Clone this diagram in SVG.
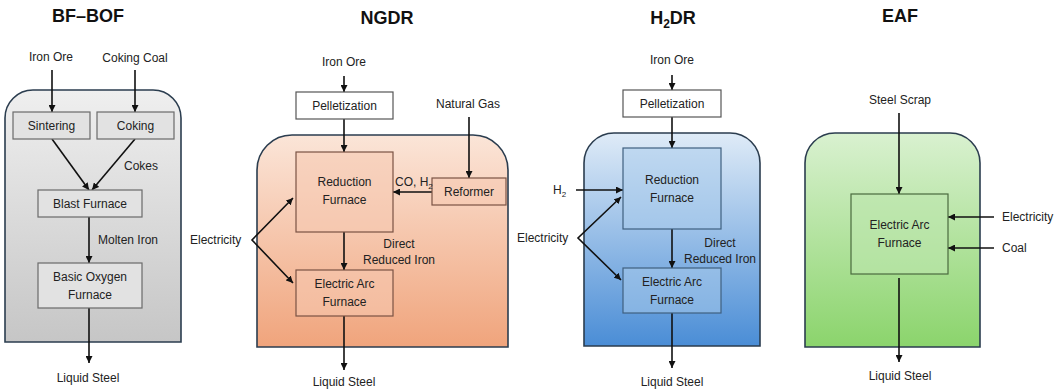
<svg xmlns="http://www.w3.org/2000/svg" width="1061" height="392" viewBox="0 0 1061 392">
<style>
text{font-family:"Liberation Sans","Noto Sans",Arial,sans-serif;fill:#222;}
.t{font-size:18px;font-weight:bold;text-anchor:middle;fill:#111;}
.l{font-size:12px;text-anchor:middle;}
.ls{font-size:12px;text-anchor:start;}
.c{fill:none;stroke:#111;stroke-width:1.6;}
.sub{font-size:8px;}
.cont{stroke:#2b3d4f;stroke-width:1.6;}
.bg{fill:#e2e2e2;stroke:#6a6a6a;stroke-width:1.2;}
.pel{fill:#fff;stroke:#555;stroke-width:1.2;}
.bo{fill:#f6c9b1;fill-opacity:0.55;stroke:#7a5344;stroke-width:1.2;}
.bb{fill:#a9cbeb;fill-opacity:0.5;stroke:#3f5f7f;stroke-width:1.2;}
.bgr{fill:#bde6ad;fill-opacity:0.6;stroke:#4a6a3e;stroke-width:1.2;}
</style>
<defs>
<marker id="ah" viewBox="0 0 10 10" refX="10" refY="5" markerWidth="7" markerHeight="7" markerUnits="userSpaceOnUse" orient="auto"><path d="M0,0 L10,5 L0,10 z" fill="#111"/></marker>
<marker id="ahs" viewBox="0 0 10 10" refX="10" refY="5" markerWidth="7" markerHeight="7" markerUnits="userSpaceOnUse" orient="auto-start-reverse"><path d="M0,0 L10,5 L0,10 z" fill="#111"/></marker>
<linearGradient id="gGray" x1="0" y1="0" x2="0" y2="1"><stop offset="0" stop-color="#efefef"/><stop offset="1" stop-color="#c6c6c6"/></linearGradient>
<linearGradient id="gOr" x1="0" y1="0" x2="0" y2="1"><stop offset="0" stop-color="#fbe5d8"/><stop offset="1" stop-color="#f0a47c"/></linearGradient>
<linearGradient id="gBl" x1="0" y1="0" x2="0" y2="1"><stop offset="0" stop-color="#dfebf7"/><stop offset="1" stop-color="#4a8dd6"/></linearGradient>
<linearGradient id="gGr" x1="0" y1="0" x2="0" y2="1"><stop offset="0" stop-color="#d9f1d0"/><stop offset="1" stop-color="#8bd46c"/></linearGradient>
</defs>

<g id="containers">
<path class="cont" fill="url(#gGray)" d="M5,342 L5,118 A28,28 0 0 1 33,90 L153,90 A28,28 0 0 1 181,118 L181,342 Z"/>
<path class="cont" fill="url(#gOr)" d="M257,347 L257,170 A35,35 0 0 1 292,135 L473,135 A35,35 0 0 1 508,170 L508,347 Z"/>
<path class="cont" fill="url(#gBl)" d="M584,346 L584,163 A30,30 0 0 1 614,133 L730,133 A30,30 0 0 1 760,163 L760,346 Z"/>
<path class="cont" fill="url(#gGr)" d="M805,347 L805,163 A30,30 0 0 1 835,133 L950,133 A30,30 0 0 1 980,163 L980,347 Z"/>
</g>

<g id="titles">
<text class="t" x="88" y="22">BF–BOF</text>
<text class="t" x="387" y="24">NGDR</text>
<text class="t" x="673" y="24">H<tspan font-size="12" dy="4">2</tspan><tspan dy="-4">DR</tspan></text>
<text class="t" x="900" y="22">EAF</text>
</g>

<g id="connectors">
<!-- BF-BOF -->
<line class="c" x1="52" y1="70" x2="52" y2="112" marker-end="url(#ah)"/>
<line class="c" x1="135" y1="70" x2="135" y2="112" marker-end="url(#ah)"/>
<line class="c" x1="52" y1="139" x2="89" y2="190" marker-end="url(#ah)"/>
<line class="c" x1="135" y1="139" x2="92" y2="190" marker-end="url(#ah)"/>
<line class="c" x1="89" y1="217" x2="89" y2="263" marker-end="url(#ah)"/>
<line class="c" x1="89" y1="308" x2="89" y2="363" marker-end="url(#ah)"/>
<!-- NGDR -->
<line class="c" x1="344" y1="76" x2="344" y2="92" marker-end="url(#ah)"/>
<line class="c" x1="344" y1="119" x2="344" y2="152" marker-end="url(#ah)"/>
<line class="c" x1="469" y1="117" x2="469" y2="178" marker-end="url(#ah)"/>
<line class="c" x1="432" y1="192" x2="393" y2="192" marker-end="url(#ah)"/>
<polyline class="c" points="293,198 252,240 293,283" marker-start="url(#ahs)" marker-end="url(#ah)"/>
<line class="c" x1="344" y1="232" x2="344" y2="270" marker-end="url(#ah)"/>
<line class="c" x1="344" y1="316" x2="344" y2="370" marker-end="url(#ah)"/>
<!-- H2DR -->
<line class="c" x1="672" y1="75" x2="672" y2="90" marker-end="url(#ah)"/>
<line class="c" x1="672" y1="117" x2="672" y2="148" marker-end="url(#ah)"/>
<line class="c" x1="576" y1="190" x2="623" y2="190" marker-end="url(#ah)"/>
<polyline class="c" points="621,197 578,238 621,280" marker-start="url(#ahs)" marker-end="url(#ah)"/>
<line class="c" x1="672" y1="229" x2="672" y2="268" marker-end="url(#ah)"/>
<line class="c" x1="672" y1="313" x2="672" y2="368" marker-end="url(#ah)"/>
<!-- EAF -->
<line class="c" x1="899" y1="113" x2="899" y2="194" marker-end="url(#ah)"/>
<line class="c" x1="994" y1="217" x2="948" y2="217" marker-end="url(#ah)"/>
<line class="c" x1="994" y1="248" x2="948" y2="248" marker-end="url(#ah)"/>
<line class="c" x1="899" y1="278" x2="899" y2="362" marker-end="url(#ah)"/>
</g>

<g id="bfbof-nodes">
<g id="sintering"><rect class="bg" x="13" y="112" width="77" height="27"/><text class="l" x="51.5" y="130">Sintering</text></g>
<g id="coking"><rect class="bg" x="97" y="112" width="77" height="27"/><text class="l" x="135.5" y="130">Coking</text></g>
<g id="blast-furnace"><rect class="bg" x="38" y="190" width="104" height="27"/><text class="l" x="90" y="208">Blast Furnace</text></g>
<g id="bof"><rect class="bg" x="38" y="263" width="104" height="45"/><text class="l" x="90" y="281">Basic Oxygen</text><text class="l" x="90" y="299">Furnace</text></g>
</g>

<g id="ngdr-nodes">
<g id="ng-pellet"><rect class="pel" x="296" y="92" width="97" height="27"/><text class="l" x="344.5" y="110">Pelletization</text></g>
<g id="ng-reduction"><rect class="bo" x="296" y="152" width="97" height="80"/><text class="l" x="344.5" y="186">Reduction</text><text class="l" x="344.5" y="204">Furnace</text></g>
<g id="ng-reformer"><rect class="bo" x="432" y="178" width="74" height="27"/><text class="l" x="469" y="196">Reformer</text></g>
<g id="ng-eaf"><rect class="bo" x="296" y="270" width="97" height="46"/><text class="l" x="344.5" y="288">Electric Arc</text><text class="l" x="344.5" y="306">Furnace</text></g>
</g>

<g id="h2dr-nodes">
<g id="h2-pellet"><rect class="pel" x="623" y="90" width="98" height="27"/><text class="l" x="672" y="108">Pelletization</text></g>
<g id="h2-reduction"><rect class="bb" x="623" y="148" width="98" height="81"/><text class="l" x="672" y="184">Reduction</text><text class="l" x="672" y="202">Furnace</text></g>
<g id="h2-eaf"><rect class="bb" x="623" y="268" width="98" height="45"/><text class="l" x="672" y="286">Electric Arc</text><text class="l" x="672" y="304">Furnace</text></g>
</g>

<g id="eaf-nodes">
<g id="eaf-box"><rect class="bgr" x="851" y="194" width="97" height="80"/><text class="l" x="899.5" y="229">Electric Arc</text><text class="l" x="899.5" y="247">Furnace</text></g>
</g>

<g id="labels">
<text class="l" x="51" y="61">Iron Ore</text>
<text class="l" x="135" y="62">Coking Coal</text>
<text class="ls" x="124" y="170">Cokes</text>
<text class="ls" x="98" y="244">Molten Iron</text>
<text class="l" x="88" y="382">Liquid Steel</text>

<text class="l" x="344" y="66">Iron Ore</text>
<text class="l" x="468" y="108">Natural Gas</text>
<text class="ls" x="395" y="186" font-size="11">CO, H<tspan class="sub" dy="3">2</tspan></text>
<text class="ls" x="190" y="244">Electricity</text>
<text class="l" x="399" y="248">Direct</text>
<text class="l" x="399" y="264">Reduced Iron</text>
<text class="l" x="344" y="386">Liquid Steel</text>

<text class="l" x="672" y="64">Iron Ore</text>
<text class="ls" x="553" y="194">H<tspan class="sub" dy="3">2</tspan></text>
<text class="ls" x="517" y="242">Electricity</text>
<text class="l" x="720" y="247">Direct</text>
<text class="l" x="720" y="263">Reduced Iron</text>
<text class="l" x="672" y="386">Liquid Steel</text>

<text class="l" x="900" y="104">Steel Scrap</text>
<text class="ls" x="1002" y="221">Electricity</text>
<text class="ls" x="1002" y="252">Coal</text>
<text class="l" x="900" y="380">Liquid Steel</text>
</g>
</svg>
